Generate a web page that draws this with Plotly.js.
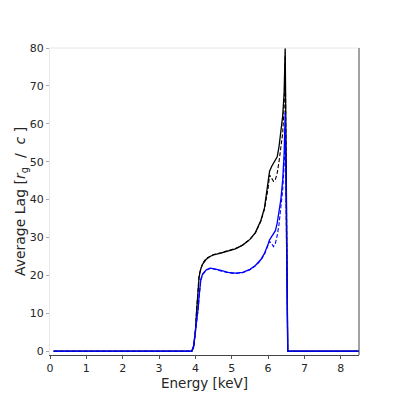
<!DOCTYPE html>
<html>
<head>
<meta charset="utf-8">
<script src="https://cdn.plot.ly/plotly-3.0.1.min.js"></script>
<style>
  html, body { margin: 0; padding: 0; background: #fff; }
  #chart { width: 399px; height: 399px; }
</style>
</head>
<body>
<div id="chart"></div>
<script>
// energy grid [keV] shared by all four curves
const energy = [0.1, 3.9, 3.95, 3.98, 4.0, 4.03, 4.06, 4.08, 4.1, 4.12, 4.15, 4.2, 4.3, 4.4, 4.5, 4.7, 4.9, 5.1, 5.3, 5.5,
                5.65, 5.8, 5.9, 6.0, 6.04, 6.1, 6.15, 6.2, 6.25, 6.3, 6.35, 6.4, 6.44, 6.47, 6.54, 8.5];

// average lag [r_g / c]
const lagBlackSolid = [0, 0, 1, 3, 5, 10, 15, 17.5, 19.5, 20.5, 21.8, 23, 24.3, 25, 25.4, 25.9, 26.4, 27, 28, 29.5,
                       31.3, 34.5, 37.8, 44, 47.5, 48.8, 49.6, 50.3, 51.3, 54, 57.5, 62, 68, 80, 0, 0];
const lagBlackDashed = [0, 0, 1, 3, 5.5, 10.5, 15.5, 18, 19.8, 20.8, 22, 23.2, 24.5, 25.1, 25.5, 26, 26.5, 27.1, 28, 29.5,
                        31.2, 34.3, 37.5, 43, 46.5, 45.5, 44.8, 45.3, 47, 50, 53.5, 57.5, 64, 78, 0, 0];
const lagBlueSolid = [0, 0, 1.5, 3.8, 5, 7.5, 10, 11.7, 14.5, 17, 19, 20.4, 21.5, 21.9, 21.8, 21.3, 20.8, 20.6, 20.8, 21.6,
                      22.6, 24.2, 25.8, 28.3, 29.4, 30.3, 30.9, 31.8, 33.8, 36.5, 40, 45, 52, 63, 0, 0];
const lagBlueDashed = [0, 0, 1.2, 3.5, 4.8, 7.2, 9.8, 11.5, 14.2, 16.7, 18.8, 20.2, 21.4, 21.8, 21.7, 21.2, 20.7, 20.5, 20.7, 21.5,
                       22.5, 24, 25.6, 28, 29, 28.3, 27.6, 28.5, 30.5, 33.5, 37.5, 42.5, 49, 58, 0, 0];

const xTicks = [0, 1, 2, 3, 4, 5, 6, 7, 8];
const yTicks = [0, 10, 20, 30, 40, 50, 60, 70, 80];

const traces = [
  { x: energy, y: lagBlackSolid, mode: 'lines', line: { color: '#000000', width: 1.3 } },
  { x: energy, y: lagBlackDashed, mode: 'lines', line: { color: '#000000', width: 1.1, dash: '4px,2px' } },
  { x: energy, y: lagBlueSolid, mode: 'lines', line: { color: '#0000ff', width: 1.3 } },
  { x: energy, y: lagBlueDashed, mode: 'lines', line: { color: '#0000ff', width: 1.1, dash: '4px,2px' } }
];

const layout = {
  width: 399,
  height: 399,
  margin: { l: 50, r: 40, t: 48, b: 44 },
  showlegend: false,
  paper_bgcolor: '#ffffff',
  plot_bgcolor: '#ffffff',
  font: { family: 'DejaVu Sans', size: 11, color: '#262626' },
  xaxis: {
    range: [0, 8.5],
    tickvals: xTicks,
    ticks: 'outside',
    ticklen: 3,
    tickcolor: '#555555',
    showgrid: false,
    zeroline: false,
    showline: true,
    linecolor: '#444444',
    linewidth: 1,
    tickfont: { size: 11, color: '#262626' },
    title: { text: 'Energy [keV]', font: { size: 13.5, color: '#262626' }, standoff: 0 }
  },
  yaxis: {
    range: [-1, 80],
    tickvals: yTicks,
    ticks: 'outside',
    ticklen: 3,
    tickcolor: '#aaaaaa',
    showgrid: false,
    zeroline: false,
    showline: true,
    linecolor: '#e6e6e6',
    linewidth: 1,
    tickfont: { size: 11, color: '#262626' },
    title: {
      text: 'Average Lag [<i>r</i><sub>g</sub>&nbsp;&nbsp;/&nbsp;&nbsp;<i>c</i>&nbsp;]',
      font: { size: 14, color: '#262626' },
      standoff: 0
    }
  },
  shapes: [
    { type: 'line', xref: 'paper', yref: 'paper', x0: 0, x1: 1, y0: 1, y1: 1, line: { color: '#e6e6e6', width: 1 } },
    { type: 'line', xref: 'paper', yref: 'paper', x0: 1, x1: 1, y0: 0, y1: 1, line: { color: '#444444', width: 1 } }
  ]
};

Plotly.newPlot('chart', traces, layout, { displayModeBar: false, staticPlot: true });
</script>
</body>
</html>
